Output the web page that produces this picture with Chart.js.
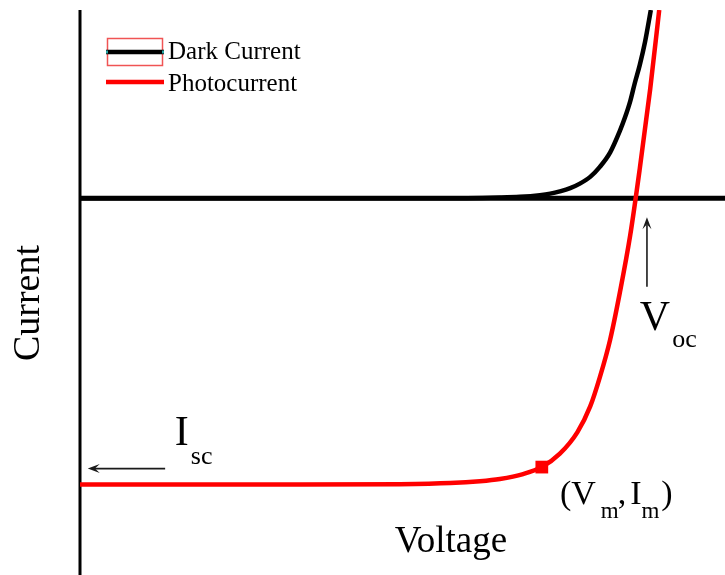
<!DOCTYPE html>
<html>
<head>
<meta charset="utf-8">
<script src="https://cdn.jsdelivr.net/npm/chart.js@4.4.1/dist/chart.umd.min.js"></script>
<style>
  html, body { margin: 0; padding: 0; background: #ffffff; }
  #wrap { width: 725px; height: 575px; }
</style>
</head>
<body>
<div id="wrap"><canvas id="c" width="725" height="575"></canvas></div>
<script>
// I-V characteristics of a solar cell (normalised units)
const darkVoltage  = [0, 0.400, 0.600, 0.651, 0.682, 0.713, 0.729, 0.744, 0.760, 0.775, 0.791, 0.806, 0.822, 0.837, 0.845, 0.853, 0.860, 0.868, 0.876, 0.885];
const darkCurrent  = [0, 0, 0.001, 0.004, 0.008, 0.017, 0.025, 0.037, 0.054, 0.078, 0.114, 0.167, 0.244, 0.358, 0.430, 0.515, 0.610, 0.710, 0.830, 1.0];

const photoVoltage = [0, 0.341, 0.496, 0.574, 0.620, 0.651, 0.687, 0.716, 0.744, 0.771, 0.791, 0.806, 0.822, 0.837, 0.853, 0.868, 0.884, 0.898];
const photoCurrent = [-1.52, -1.52, -1.518, -1.512, -1.502, -1.490, -1.464, -1.427, -1.356, -1.243, -1.105, -0.949, -0.749, -0.500, -0.197, 0.161, 0.580, 1.0];

const seriesNames = ['Dark Current', 'Photocurrent'];
const axisTitles = { x: 'Voltage', y: 'Current' };

// characteristic points
const maxPower = { x: 0.716, y: -1.427 };
const openCircuitVoltage = 0.862;
const shortCircuitCurrent = -1.52;

const toPoints = (xs, ys) => xs.map((x, i) => ({ x: x, y: ys[i] }));

const SERIF = '"Liberation Serif", "Times New Roman", serif';

// draws a run of text pieces, each with its own size and baseline shift
function drawRich(ctx, x, baseline, parts) {
  let cx = x;
  parts.forEach(p => {
    ctx.font = p.size + 'px ' + SERIF;
    ctx.fillText(p.t, cx + (p.dx || 0), baseline + (p.dy || 0));
    cx += ctx.measureText(p.t).width + (p.dx || 0) + (p.gap || 0);
  });
}

function arrow(ctx, x1, y1, x2, y2) {
  const ang = Math.atan2(y2 - y1, x2 - x1);
  const len = 12, half = 4.5;
  const c = Math.cos(ang), s = Math.sin(ang);
  ctx.save();
  ctx.strokeStyle = '#1a1a1a';
  ctx.fillStyle = '#1a1a1a';
  ctx.lineWidth = 1.6;
  ctx.beginPath();
  ctx.moveTo(x1, y1);
  ctx.lineTo(x2 - c * len * 0.6, y2 - s * len * 0.6);
  ctx.stroke();
  ctx.beginPath();
  ctx.moveTo(x2, y2);
  ctx.lineTo(x2 - c * len - s * half, y2 - s * len + c * half);
  ctx.lineTo(x2 - c * len * 0.6, y2 - s * len * 0.6);
  ctx.lineTo(x2 - c * len + s * half, y2 - s * len - c * half);
  ctx.closePath();
  ctx.fill();
  ctx.restore();
}

const axesAndNotes = {
  id: 'axesAndNotes',
  beforeDatasetsDraw(chart) {
    const { ctx, chartArea, scales } = chart;
    const x0 = scales.x.getPixelForValue(0);
    const y0 = scales.y.getPixelForValue(0);
    ctx.save();
    ctx.strokeStyle = '#000';
    ctx.lineWidth = 3;
    ctx.beginPath();
    ctx.moveTo(x0, chartArea.top);
    ctx.lineTo(x0, chart.height);
    ctx.stroke();
    ctx.lineWidth = 5;
    ctx.beginPath();
    ctx.moveTo(x0, y0);
    ctx.lineTo(chartArea.right, y0);
    ctx.stroke();
    ctx.restore();
  },
  afterDraw(chart) {
    const { ctx, scales } = chart;
    const px = v => scales.x.getPixelForValue(v);
    const py = v => scales.y.getPixelForValue(v);
    ctx.save();
    ctx.fillStyle = '#000';
    ctx.textBaseline = 'alphabetic';
    ctx.textAlign = 'left';

    // Voc marker
    const xVoc = px(openCircuitVoltage + 0.017);
    arrow(ctx, xVoc, py(-0.47), xVoc, py(-0.10));
    drawRich(ctx, px(openCircuitVoltage + 0.006), py(-0.70), [
      { t: 'V', size: 42, gap: 2 },
      { t: 'oc', size: 26, dy: 17 }
    ]);

    // Isc marker
    const yIsc = py(shortCircuitCurrent + 0.085);
    arrow(ctx, px(0.132), yIsc, px(0.012), yIsc);
    drawRich(ctx, px(0.147), py(-1.31), [
      { t: 'I', size: 42, gap: 2 },
      { t: 'sc', size: 26, dy: 19 }
    ]);

    // maximum power point
    drawRich(ctx, px(maxPower.x + 0.028), py(maxPower.y - 0.196), [
      { t: '(', size: 34 },
      { t: 'V', size: 34, gap: 5 },
      { t: 'm', size: 23, dy: 14 },
      { t: ',', size: 34, dx: -1, gap: 4 },
      { t: 'I', size: 34 },
      { t: 'm', size: 23, dy: 14, gap: 2 },
      { t: ')', size: 34 }
    ]);

    // axis titles
    ctx.font = '37px ' + SERIF;
    ctx.textAlign = 'center';
    ctx.fillText(axisTitles.x, 451, 552);
    ctx.save();
    ctx.font = '38px ' + SERIF;
    ctx.translate(39, 303);
    ctx.rotate(-Math.PI / 2);
    ctx.fillText(axisTitles.y, 0, 0);
    ctx.restore();

    // legend
    ctx.textAlign = 'left';
    ctx.strokeStyle = '#f05454';
    ctx.lineWidth = 1.5;
    ctx.strokeRect(107.5, 38.5, 55, 27);
    ctx.strokeStyle = '#000';
    ctx.lineWidth = 4.5;
    ctx.beginPath(); ctx.moveTo(106, 52); ctx.lineTo(164, 52); ctx.stroke();
    ctx.fillStyle = '#2aa6a6';
    ctx.fillRect(106, 50.5, 2, 3);
    ctx.fillRect(162, 50.5, 2, 3);
    ctx.strokeStyle = '#ff0000';
    ctx.beginPath(); ctx.moveTo(106, 82); ctx.lineTo(164, 82); ctx.stroke();
    ctx.fillStyle = '#000';
    ctx.font = '25px ' + SERIF;
    ctx.fillText(seriesNames[0], 168, 59);
    ctx.fillText(seriesNames[1], 168, 91);
    ctx.restore();
  }
};

new Chart(document.getElementById('c'), {
  type: 'line',
  data: {
    datasets: [
      {
        label: seriesNames[0],
        data: toPoints(darkVoltage, darkCurrent),
        borderColor: '#000000',
        borderWidth: 4.5,
        pointRadius: 0,
        fill: false,
        cubicInterpolationMode: 'monotone',
        order: 2
      },
      {
        label: seriesNames[1],
        data: toPoints(photoVoltage, photoCurrent),
        borderColor: '#ff0000',
        borderWidth: 4.5,
        pointRadius: 0,
        fill: false,
        cubicInterpolationMode: 'monotone',
        order: 1
      },
      {
        label: 'Pmax',
        data: [maxPower],
        showLine: false,
        pointStyle: 'rect',
        pointRadius: 9,
        backgroundColor: '#ff0000',
        borderColor: '#ff0000',
        borderWidth: 0,
        order: 0
      }
    ]
  },
  options: {
    responsive: false,
    animation: false,
    devicePixelRatio: 1,
    layout: { autoPadding: false, padding: { left: 80, top: 10, right: 0, bottom: 0 } },
    plugins: { legend: { display: false }, tooltip: { enabled: false } },
    scales: {
      x: { type: 'linear', min: 0, max: 1, display: false },
      y: { type: 'linear', min: -2, max: 1, display: false }
    }
  },
  plugins: [axesAndNotes]
});
</script>
</body>
</html>
